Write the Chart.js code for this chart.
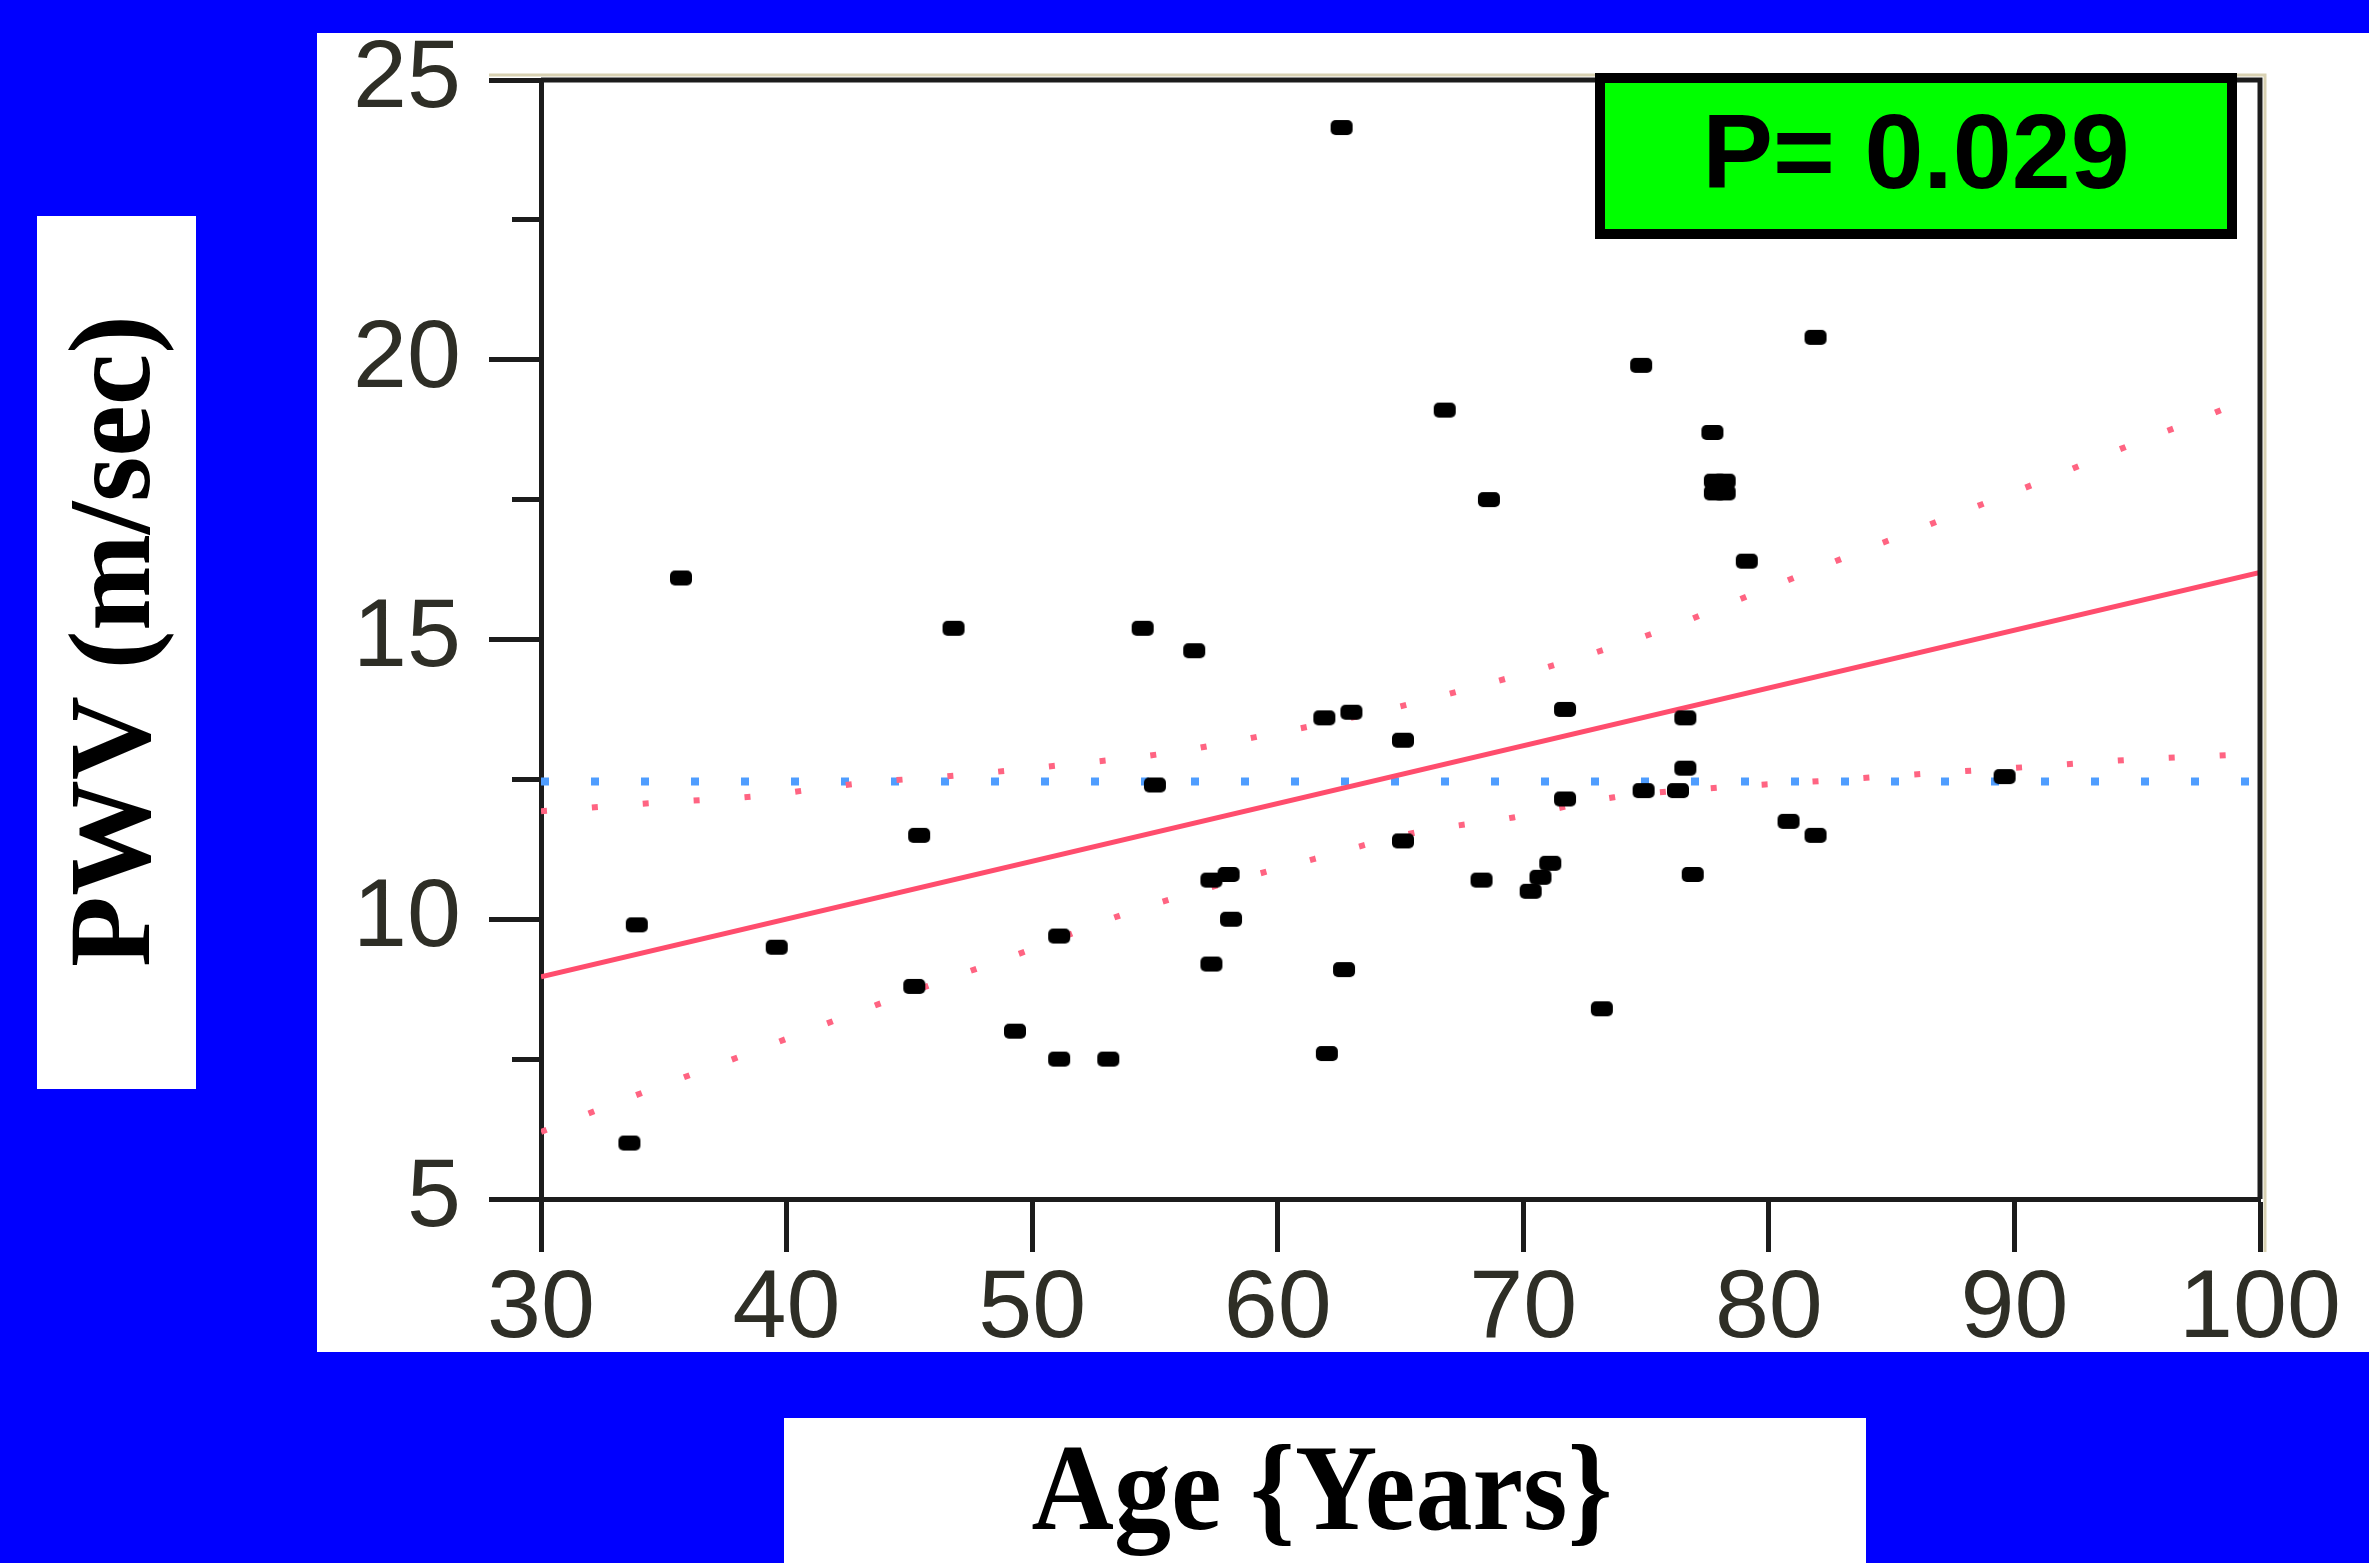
<!DOCTYPE html>
<html>
<head>
<meta charset="utf-8">
<title>PWV vs Age</title>
<script src="https://cdn.jsdelivr.net/npm/chart.js@4.4.1/dist/chart.umd.min.js"></script>
<style>
  html, body { margin: 0; padding: 0; }
  body {
    width: 2369px; height: 1563px; overflow: hidden;
    position: relative; background: #0000ff;
  }
  #panel {
    position: absolute; left: 317px; top: 33px;
    width: 2052px; height: 1319px; background: #ffffff;
  }
  #chartWrap { position: absolute; left: 0; top: 0; width: 2052px; height: 1319px; }
  #yTitleBox {
    position: absolute; left: 37px; top: 216px;
    width: 159px; height: 873px; background: #ffffff;
  }
  #yTitle {
    position: absolute; left: 110px; top: 641px;
    transform: translate(-50%, -50%) rotate(-90deg);
    font: bold 116px "Liberation Serif", "Times New Roman", serif;
    line-height: 1; white-space: nowrap; color: #000;
  }
  #xTitleBox {
    position: absolute; left: 784px; top: 1418px;
    width: 1082px; height: 145px; background: #ffffff;
  }
  #xTitle {
    position: absolute; left: 1322px; top: 1488px;
    transform: translate(-50%, -50%) scaleX(0.935);
    font: bold 122px "Liberation Serif", "Times New Roman", serif;
    line-height: 1; white-space: nowrap; color: #000;
  }
  #pBox {
    position: absolute; left: 1595px; top: 73px;
    width: 642px; height: 166px; box-sizing: border-box;
    border: 10px solid #000; background: #00ff00;
    display: flex; align-items: center; justify-content: center;
    padding-bottom: 10px;
    font: bold 106px "Liberation Sans", Arial, sans-serif;
    line-height: 1; color: #000; white-space: nowrap;
  }
</style>
</head>
<body>
  <div id="panel"><div id="chartWrap"><canvas id="pwvChart"></canvas></div></div>
  <div id="yTitleBox"></div>
  <div id="yTitle">PWV (m/sec)</div>
  <div id="xTitleBox"></div>
  <div id="xTitle">Age {Years}</div>
  <div id="pBox">P= 0.029</div>

<script>
  // ---- data ----
  const ages = [33.6, 33.9, 35.7, 39.6, 45.2, 45.4, 46.8, 49.3, 51.1, 51.1,
                53.1, 54.5, 55.0, 56.6, 57.3, 58.0, 57.3, 58.1, 61.9, 63.0,
                62.6, 62.0, 62.7, 65.1, 65.1, 66.8, 68.6, 68.3, 70.3, 70.7,
                71.1, 71.7, 71.7, 73.2, 74.8, 74.9, 76.3, 76.6, 76.6, 76.9,
                77.7, 77.8, 78.2, 77.8, 78.2, 79.1, 80.8, 81.9, 81.9, 89.6];
  const pwv  = [6.0, 9.9, 16.1, 9.5, 8.8, 11.5, 15.2, 8.0, 9.7, 7.5,
                7.5, 15.2, 12.4, 14.8, 10.7, 10.8, 9.2, 10.0, 13.6, 13.7,
                24.15, 7.6, 9.1, 13.2, 11.4, 19.1, 17.5, 10.7, 10.5, 10.75,
                11.0, 13.75, 12.15, 8.4, 19.9, 12.3, 12.3, 12.7, 13.6, 10.8,
                18.7, 17.83, 17.83, 17.62, 17.62, 16.4, 11.75, 11.5, 20.4, 12.55];

  // regression fit (solid red)
  const fitAge = [30, 100];
  const fitPwv = [8.97, 16.2];

  // confidence curves (dotted red)
  const upperCiAge = [30, 34.6, 38.8, 43.0, 47.2, 51.3, 55.5, 59.5, 63.7, 67.6,
                      71.7, 75.6, 79.4, 83.3, 87.1, 91.0, 94.8, 98.7, 100];
  const upperCiPwv = [11.93, 12.08, 12.2, 12.43, 12.58, 12.76, 12.97, 13.29, 13.67, 14.1,
                      14.6, 15.16, 15.82, 16.5, 17.15, 17.81, 18.49, 19.15, 19.4];
  const lowerCiAge = [30, 34.2, 38.0, 41.9, 45.7, 49.7, 53.6, 57.5, 61.5, 65.6,
                      69.6, 73.7, 77.9, 82.1, 86.3, 90.5, 94.7, 98.9, 100];
  const lowerCiPwv = [6.2, 6.91, 7.53, 8.18, 8.8, 9.42, 10.07, 10.6, 11.08, 11.55,
                      11.82, 12.18, 12.35, 12.47, 12.6, 12.72, 12.85, 12.94, 12.97];

  // mean PWV (dotted blue)
  const meanAge = [30, 100];
  const meanPwv = [12.46, 12.46];

  const xTicks = [30, 100, 10];   // min, max, step
  const yTicks = [5, 25, 2.5];

  // ---- helpers ----
  const toXY = (xs, ys) => xs.map((x, i) => ({ x: x, y: ys[i] }));

  function makeDot() {
    const c = document.createElement("canvas");
    c.width = 24; c.height = 17;
    const g = c.getContext("2d");
    g.fillStyle = "#000";
    g.beginPath();
    if (g.roundRect) g.roundRect(1, 1, 22, 15, 5);
    else g.rect(1, 1, 22, 15);
    g.fill();
    return c;
  }

  // top and right edges of the plot frame
  const framePlugin = {
    id: "frame",
    afterDatasetsDraw(chart) {
      const { ctx, chartArea: a } = chart;
      ctx.save();
      ctx.strokeStyle = "#d8d1b2";
      ctx.lineWidth = 3;
      ctx.beginPath();
      ctx.moveTo(a.left - 52, a.top - 5);
      ctx.lineTo(a.right + 5, a.top - 5);
      ctx.lineTo(a.right + 5, a.bottom + 53);
      ctx.stroke();
      ctx.strokeStyle = "#1c1c1c";
      ctx.lineWidth = 5;
      ctx.beginPath();
      ctx.moveTo(a.left, a.top);
      ctx.lineTo(a.right, a.top);
      ctx.lineTo(a.right, a.bottom);
      ctx.stroke();
      ctx.restore();
    }
  };

  const tickFont = { family: "'Liberation Sans', Arial, sans-serif", size: 97 };
  const axisColor = "#1c1c1c";

  new Chart(document.getElementById("pwvChart"), {
    type: "scatter",
    data: {
      datasets: [
        {
          label: "PWV",
          data: toXY(ages, pwv),
          pointStyle: makeDot(),
          pointRadius: 7,
          showLine: false
        },
        {
          label: "Fit",
          data: toXY(fitAge, fitPwv),
          showLine: true,
          borderColor: "#ff4d6d",
          borderWidth: 5,
          pointRadius: 0
        },
        {
          label: "Upper CI",
          data: toXY(upperCiAge, upperCiPwv),
          showLine: true,
          borderColor: "#ff6482",
          borderWidth: 6,
          borderDash: [6, 45],
          cubicInterpolationMode: "monotone",
          pointRadius: 0
        },
        {
          label: "Lower CI",
          data: toXY(lowerCiAge, lowerCiPwv),
          showLine: true,
          borderColor: "#ff6482",
          borderWidth: 6,
          borderDash: [6, 45],
          cubicInterpolationMode: "monotone",
          pointRadius: 0
        },
        {
          label: "Mean",
          data: toXY(meanAge, meanPwv),
          showLine: true,
          borderColor: "#4f9dff",
          borderWidth: 8,
          borderDash: [8, 42],
          pointRadius: 0
        }
      ]
    },
    options: {
      responsive: true,
      maintainAspectRatio: false,
      devicePixelRatio: 1,
      animation: false,
      events: [],
      layout: { padding: { left: 0, top: 47, right: 109, bottom: 0 } },
      plugins: {
        legend: { display: false },
        tooltip: { enabled: false }
      },
      scales: {
        x: {
          type: "linear",
          min: xTicks[0],
          max: xTicks[1],
          afterFit: (scale) => {
            scale.height = 153;
            scale.paddingLeft = 0;
            scale.paddingRight = 0;
          },
          border: { display: true, color: axisColor, width: 5 },
          grid: {
            drawOnChartArea: false,
            tickLength: 53,
            tickWidth: 5,
            tickColor: axisColor
          },
          ticks: {
            stepSize: xTicks[2],
            autoSkip: false,
            maxRotation: 0,
            padding: 0,
            color: "#2e2e26",
            font: tickFont
          }
        },
        y: {
          type: "linear",
          min: yTicks[0],
          max: yTicks[1],
          afterFit: (scale) => {
            scale.width = 224;
            scale.paddingTop = 0;
            scale.paddingBottom = 0;
          },
          border: { display: true, color: axisColor, width: 5 },
          grid: {
            drawOnChartArea: false,
            tickLength: 52,
            tickWidth: 5,
            tickColor: axisColor,
            // minor ticks (7.5, 12.5 ...) are drawn shorter
            tickBorderDash: (ctx) =>
              ctx.tick && ctx.tick.value % 5 !== 0 ? [0, 23, 29, 0] : []
          },
          ticks: {
            stepSize: yTicks[2],
            autoSkip: false,
            padding: 28,
            color: "#2e2e26",
            font: tickFont,
            callback: (v) => (v % 5 === 0 ? v : "")
          }
        }
      }
    },
    plugins: [framePlugin]
  });
</script>
</body>
</html>
